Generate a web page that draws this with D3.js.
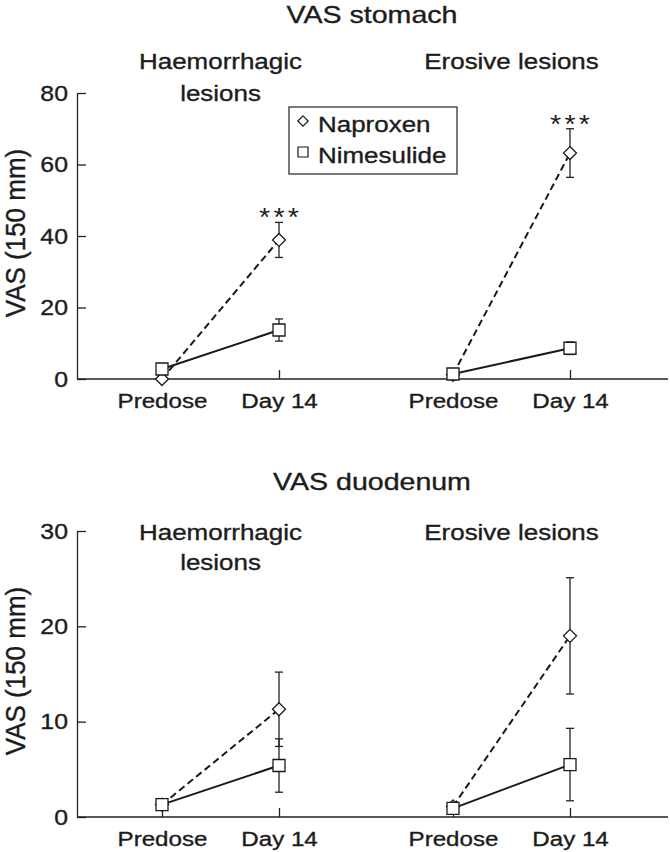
<!DOCTYPE html>
<html><head><meta charset="utf-8">
<script src="https://cdn.jsdelivr.net/npm/d3@7"></script>
<style>body{margin:0;background:#fff} text{stroke:#1c1c1c;stroke-width:0.35px}</style></head>
<body><svg id="c" width="670" height="852"></svg>
<script>
// ---------- data ----------
const groups = ["Haemorrhagic lesions", "Erosive lesions"];
const groupLabelLines = [["Haemorrhagic", "lesions"], ["Erosive lesions"]];
const timepoints = ["Predose", "Day 14"];
const seriesNames = ["Naproxen", "Nimesulide"];

const stomachTicks = [0, 20, 40, 60, 80];
const stomachNaproxen = [[0, 38.9], [1.2, 63.2]];
const stomachNaproxenErr = [[0, 4.9], [0, 6.8]];
const stomachNimesulide = [[2.8, 13.7], [1.4, 8.6]];
const stomachNimesulideErr = [[0, 3.1], [0, 1.75]];
const stomachSignificance = ["***", "***"];

const duodenumTicks = [0, 10, 20, 30];
const duodenumNaproxen = [[1.3, 11.3], [1.1, 19.0]];
const duodenumNaproxenErr = [[0, 3.9], [0, 6.1]];
const duodenumNimesulide = [[1.3, 5.4], [0.9, 5.5]];
const duodenumNimesulideErr = [[0, 2.8], [0, 3.8]];
const duodenumSignificance = ["", ""];

// ---------- setup ----------
const svg = d3.select("#c");
svg.append("rect").attr("width", 670).attr("height", 852).attr("fill", "#fff");
const FONT = "'Liberation Sans', Arial, Helvetica, sans-serif";
const INK = "#1c1c1c";
const SX = 1.18;

function txt(parent, x, y, s, size, anchor, sx) {
  const g = parent.append("g").attr("transform", `translate(${x},${y}) scale(${sx},1)`);
  g.append("text").attr("text-anchor", anchor).attr("font-family", FONT)
    .attr("font-size", size).attr("fill", INK).text(s);
  return g;
}

const xBand = d3.scaleBand().domain(groups).range([75, 657]).paddingInner(0).paddingOuter(0);
const xInner = d3.scalePoint().domain(timepoints).range([-58.5, 58.5]);
const gx = (gi, ti) => xBand(groups[gi]) + xBand.bandwidth() / 2 + xInner(timepoints[ti]);

const diamondPath = r => `M0,${-r}L${r},0L0,${r}L${-r},0Z`;
const squarePath = r => `M${-r},${-r}H${r}V${r}H${-r}Z`;

function panel(cfg) {
  const y = d3.scaleLinear().domain([0, cfg.ticks[cfg.ticks.length - 1]]).range([cfg.y0, cfg.yTop]);
  const g = svg.append("g");

  // title
  txt(g, 372, cfg.titleY, cfg.title, 24, "middle", 1.19);
  // group subtitles
  groups.forEach((grp, gi) => {
    const cx = xBand(grp) + xBand.bandwidth() / 2;
    groupLabelLines[gi].forEach((line, li) => {
      txt(g, cx, cfg.subY + li * cfg.subGap, line, 22, "middle", SX);
    });
  });

  // y axis
  const ya = g.append("g").attr("transform", "translate(77,0)")
    .call(d3.axisLeft(y).tickValues(cfg.ticks).tickFormat(d3.format("d"))
      .tickSizeInner(-9).tickSizeOuter(0).tickPadding(9));
  ya.selectAll("path,line").attr("stroke", "#222").attr("stroke-width", 1.3);
  ya.selectAll("text").attr("font-family", FONT).attr("font-size", 22).attr("fill", INK)
    .attr("x", -9 / 1.13).attr("transform", "scale(1.13,1)");

  // y label
  g.append("text")
    .attr("transform", `translate(25,${(cfg.y0 + cfg.yTop) / 2 - 3}) rotate(-90) scale(1,1.08)`)
    .attr("text-anchor", "middle").attr("font-family", FONT).attr("font-size", 26)
    .attr("fill", INK).text("VAS (150 mm)");

  // x baseline
  g.append("line").attr("x1", 77).attr("x2", 668).attr("y1", cfg.y0).attr("y2", cfg.y0)
    .attr("stroke", "#222").attr("stroke-width", 1.3);
  // x axes per group
  groups.forEach((grp, gi) => {
    const cx = xBand(grp) + xBand.bandwidth() / 2;
    const sc = d3.scalePoint().domain(timepoints).range([cx - 58.5, cx + 58.5]);
    const xa = g.append("g").attr("transform", `translate(0,${cfg.y0})`)
      .call(d3.axisBottom(sc).tickSizeInner(-9).tickSizeOuter(0).tickPadding(14));
    xa.select(".domain").remove();
    xa.selectAll("line").attr("stroke", "#222").attr("stroke-width", 1.3);
    xa.selectAll("text").attr("font-family", FONT).attr("font-size", 21).attr("fill", INK)
      .attr("transform", "scale(1.15,1)");
  });

  const line = d3.line().x(d => d[0]).y(d => d[1]);
  const series = [
    { vals: cfg.nap, err: cfg.napErr, dash: "7,4", shape: diamondPath(6.5) },
    { vals: cfg.nim, err: cfg.nimErr, dash: null, shape: squarePath(6) }
  ];

  // lines
  series.forEach(s => {
    s.vals.forEach((pair, gi) => {
      const pts = pair.map((v, ti) => [gx(gi, ti), y(v)]);
      g.append("path").attr("d", line(pts)).attr("fill", "none")
        .attr("stroke", "#1a1a1a").attr("stroke-width", 2)
        .attr("stroke-dasharray", s.dash);
    });
  });
  // error bars
  series.forEach(s => {
    s.vals.forEach((pair, gi) => {
      pair.forEach((v, ti) => {
        const e = s.err[gi][ti];
        if (!e) return;
        const x = gx(gi, ti);
        const eg = g.append("g").attr("stroke", "#222").attr("stroke-width", 1.3);
        eg.append("line").attr("x1", x).attr("x2", x).attr("y1", y(v - e)).attr("y2", y(v + e));
        eg.append("line").attr("x1", x - 4).attr("x2", x + 4).attr("y1", y(v - e)).attr("y2", y(v - e));
        eg.append("line").attr("x1", x - 4).attr("x2", x + 4).attr("y1", y(v + e)).attr("y2", y(v + e));
      });
    });
  });
  // markers
  series.forEach(s => {
    s.vals.forEach((pair, gi) => {
      pair.forEach((v, ti) => {
        g.append("path").attr("d", s.shape)
          .attr("transform", `translate(${gx(gi, ti)},${y(v)})`)
          .attr("fill", "#fff").attr("stroke", "#1a1a1a").attr("stroke-width", 1.3);
      });
    });
  });
  // significance
  cfg.sig.forEach((s, gi) => {
    if (!s) return;
    const v = cfg.nap[gi][1] + cfg.napErr[gi][1];
    const t = txt(g, gx(gi, 1), y(v) + 4, s, 26, "middle", 1.1);
    t.select("text").attr("letter-spacing", 3).attr("dx", 1.5).style("stroke-width", "0px");
  });
}

panel({
  title: "VAS stomach", titleY: 23, subY: 69, subGap: 32,
  ticks: stomachTicks, y0: 379, yTop: 93,
  nap: stomachNaproxen, napErr: stomachNaproxenErr,
  nim: stomachNimesulide, nimErr: stomachNimesulideErr,
  sig: stomachSignificance
});
panel({
  title: "VAS duodenum", titleY: 490, subY: 540, subGap: 30,
  ticks: duodenumTicks, y0: 817, yTop: 531,
  nap: duodenumNaproxen, napErr: duodenumNaproxenErr,
  nim: duodenumNimesulide, nimErr: duodenumNimesulideErr,
  sig: duodenumSignificance
});

// legend
const lg = svg.append("g");
lg.append("rect").attr("x", 289).attr("y", 107).attr("width", 168).attr("height", 67)
  .attr("fill", "#fff").attr("stroke", "#333").attr("stroke-width", 1.3);
const legendShapes = [diamondPath(5.2), squarePath(5)];
seriesNames.forEach((name, i) => {
  const cy = 121 + i * 31;
  lg.append("path").attr("d", legendShapes[i]).attr("transform", `translate(303,${cy})`)
    .attr("fill", "#fff").attr("stroke", "#1a1a1a").attr("stroke-width", 1.2);
  txt(lg, 318, cy + 10.5, name, 22, "start", SX);
});
</script>
</body></html>
